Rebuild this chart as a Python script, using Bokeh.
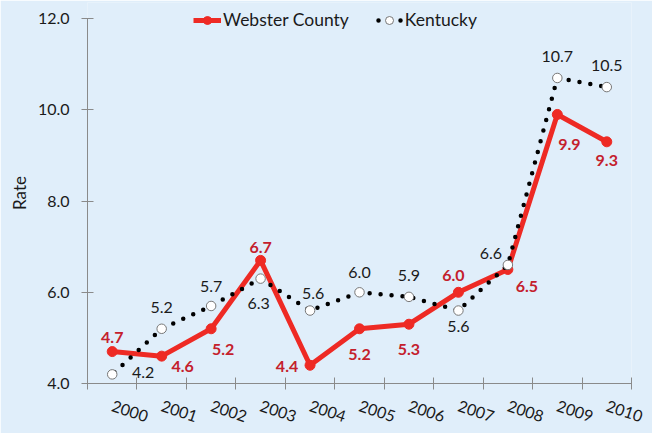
from bokeh.plotting import figure
from bokeh.models import (Range1d, FixedTicker, ColumnDataSource, LabelSet, Legend,
                          LegendItem, NumeralTickFormatter)
from bokeh.core.properties import value
from bokeh.embed import file_html
from bokeh.resources import INLINE

# ---- data ----
years = ["2000", "2001", "2002", "2003", "2004", "2005", "2006", "2007", "2008", "2009", "2010"]
webster = [4.7, 4.6, 5.2, 6.7, 4.4, 5.2, 5.3, 6.0, 6.5, 9.9, 9.3]
kentucky = [4.2, 5.2, 5.7, 6.3, 5.6, 6.0, 5.9, 5.6, 6.6, 10.7, 10.5]
y_ticks = [4, 6, 8, 10, 12]

# ---- label placement (screen px, x right / y up) ----
web_dx = [0, 21, 12, 0, -23, 0, 0, -5, 19, 12, 0]
web_dy = [14, -10, -21, 13, -1, -26, -25, 17, -17, -30, -19]
ky_dx = [31, 0, 0, -2, 3, 0, 0, 0, -17, 0, 0]
ky_dy = [2, 21, 19, -25, 17, 20, 21, -16, 11, 21, 22]

BG = "#E0EEFA"
RED = "#EE2A24"
RED_TXT = "#C4202C"
AXIS = "#8A8A8A"
FONT = "Lato"

xs = [i + 0.5 for i in range(len(years))]

src = ColumnDataSource(dict(
    x=xs, web=webster, ky=kentucky,
    web_lbl=[f"{v:.1f}" for v in webster],
    ky_lbl=[f"{v:.1f}" for v in kentucky],
    web_dx=web_dx, web_dy=web_dy, ky_dx=ky_dx, ky_dy=ky_dy,
))

p = figure(frame_width=544, frame_height=381,
           x_range=Range1d(0, len(years)), y_range=Range1d(4, 12.355),
           output_backend="svg", toolbar_location=None,
           min_border_left=87, min_border_right=21, min_border_top=2, min_border_bottom=50,
           background_fill_color=BG, border_fill_color=BG, outline_line_color=None)
p.xgrid.grid_line_color = None
p.ygrid.grid_line_color = None

# x axis: boundary ticks as minor ticks, labels at centres
xax = p.xaxis[0]
xax.ticker = FixedTicker(ticks=xs, minor_ticks=list(range(len(years) + 1)))
xax.major_label_overrides = {x: y for x, y in zip(xs, years)}
xax.major_tick_in = 0
xax.major_tick_out = 0
xax.minor_tick_in = 6
xax.minor_tick_out = 6
xax.minor_tick_line_color = AXIS
xax.axis_line_color = AXIS
xax.major_label_orientation = -0.32
xax.major_label_standoff = 16
xax.major_label_text_font = FONT
xax.major_label_text_font_size = "16px"
xax.major_label_text_color = "#1a1a1a"

yax = p.yaxis[0]
yax.bounds = (4, 12)
yax.ticker = FixedTicker(ticks=y_ticks, minor_ticks=[])
yax.formatter = NumeralTickFormatter(format="0.0")
yax.major_tick_in = 6
yax.major_tick_out = 6
yax.major_tick_line_color = AXIS
yax.axis_line_color = AXIS
yax.major_label_standoff = 12
yax.major_label_text_font = FONT
yax.major_label_text_font_size = "16px"
yax.major_label_text_color = "#1a1a1a"
yax.axis_label = "Rate"
yax.axis_label_text_font = FONT
yax.axis_label_text_font_size = "17px"
yax.axis_label_text_font_style = "normal"
yax.axis_label_text_color = "#1a1a1a"
yax.axis_label_standoff = 5

wl = p.line("x", "web", source=src, line_color=RED, line_width=5, line_join="round")
ws = p.scatter("x", "web", source=src, size=10, fill_color=RED, line_color=RED)
kl = p.line("x", "ky", source=src, line_color="black", line_width=4.5,
            line_dash="0 11", line_dash_offset=8, line_cap="round")
ks = p.scatter("x", "ky", source=src, size=9.5, fill_color="white", line_color="#777777",
               line_width=1)

p.add_layout(LabelSet(x="x", y="web", text="web_lbl", x_offset="web_dx", y_offset="web_dy",
                      source=src, text_align="center", text_baseline="middle",
                      text_font=value(FONT), text_font_size=value("16px"),
                      text_font_style=value("bold"), text_color=value(RED_TXT)))
p.add_layout(LabelSet(x="x", y="ky", text="ky_lbl", x_offset="ky_dx", y_offset="ky_dy",
                      source=src, text_align="center", text_baseline="middle",
                      text_font=value(FONT), text_font_size=value("16px"),
                      text_color=value("#1a1a1a")))

legend = Legend(items=[LegendItem(label="Webster County", renderers=[wl, ws]),
                       LegendItem(label="Kentucky", renderers=[kl, ks])],
                orientation="horizontal", location=(106, 353),
                background_fill_alpha=0, border_line_color=None,
                glyph_width=28, glyph_height=20, label_height=20, label_standoff=2,
                spacing=26, padding=0, margin=0,
                label_text_font=FONT, label_text_font_size="17.5px", label_text_color="#1a1a1a")
p.add_layout(legend)

open("out.html", "w").write(file_html(p, INLINE))
